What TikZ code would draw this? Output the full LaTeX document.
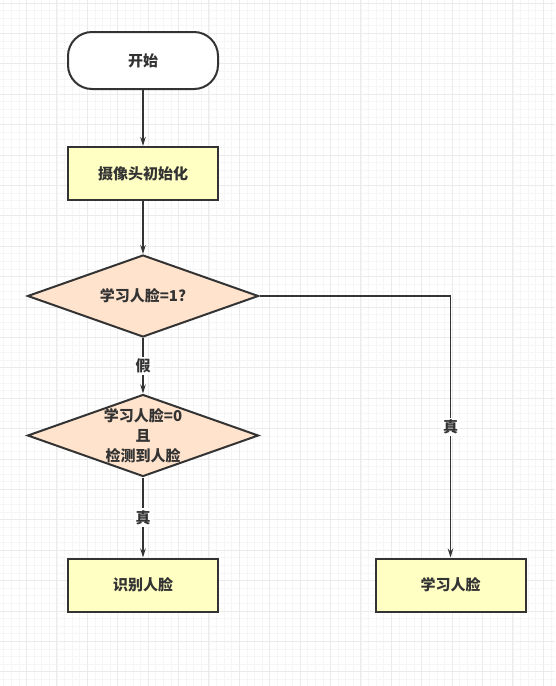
\documentclass[tikz,border=0pt]{standalone}
\usepackage{fontspec}
\setmainfont{Noto Sans CJK SC}
\usetikzlibrary{shapes.geometric,arrows.meta}
\definecolor{boxyellow}{HTML}{FFFFC4}
\definecolor{peach}{HTML}{FFE3CC}
\definecolor{linegray}{HTML}{333333}
\definecolor{minorgrid}{HTML}{F6F6F6}
\definecolor{majorgrid}{HTML}{EBEBEB}
\begin{document}
\begin{tikzpicture}[x=1pt,y=-1pt,
    font=\bfseries\fontsize{15}{20}\selectfont,
    every node/.style={text=linegray},
    proc/.style={draw=linegray, line width=2pt, fill=boxyellow, minimum width=150, minimum height=53},
    decision/.style={diamond, draw=linegray, line width=2pt, fill=peach, minimum width=231, minimum height=82, inner sep=0pt},
    flow/.style={draw=linegray, line width=1.6pt, -{Stealth[length=9pt,width=5.5pt]}},
    lbl/.style={fill=white, inner sep=2pt}]
  \useasboundingbox (0,0) rectangle (555,686);
  \fill[white] (0,0) rectangle (555,686);
  % grid
  \foreach \i in {0,...,72}
    \draw[minorgrid, line width=0.8pt] (3.7+7.6*\i,0) -- ++(0,686);
  \foreach \i in {0,...,90}
    \draw[minorgrid, line width=0.8pt] (0,3+7.6*\i) -- ++(555,0);
  \foreach \i in {-1,...,18}
    \draw[majorgrid, line width=1pt] (26.5+30.4*\i,0) -- ++(0,686);
  \foreach \i in {0,...,22}
    \draw[majorgrid, line width=1pt] (0,3+30.4*\i) -- ++(555,0);

  \node[proc, fill=white, rounded corners=24pt, minimum height=57] (start) at (143,60.5) {开始};
  \node[proc] (init) at (143,173.5) {摄像头初始化};
  \node[decision, label=center:{学习人脸=1?}] (learnq) at (143,296) {};
  \node[decision, label={[align=center]center:学习人脸=0\\且\\检测到人脸}] (detectq) at (143,435.5) {};
  \node[proc] (recog) at (143,585) {识别人脸};
  \node[proc] (learn) at (450.5,585) {学习人脸};

  \draw[flow] (start) -- (init);
  \draw[flow] (init) -- (learnq);
  \draw[flow] (learnq) -- node[lbl]{假} (detectq);
  \draw[flow] (detectq) -- node[lbl]{真} (recog);
  \draw[flow] (learnq.east) -| node[lbl, pos=0.75]{真} (learn);
\end{tikzpicture}
\end{document}
